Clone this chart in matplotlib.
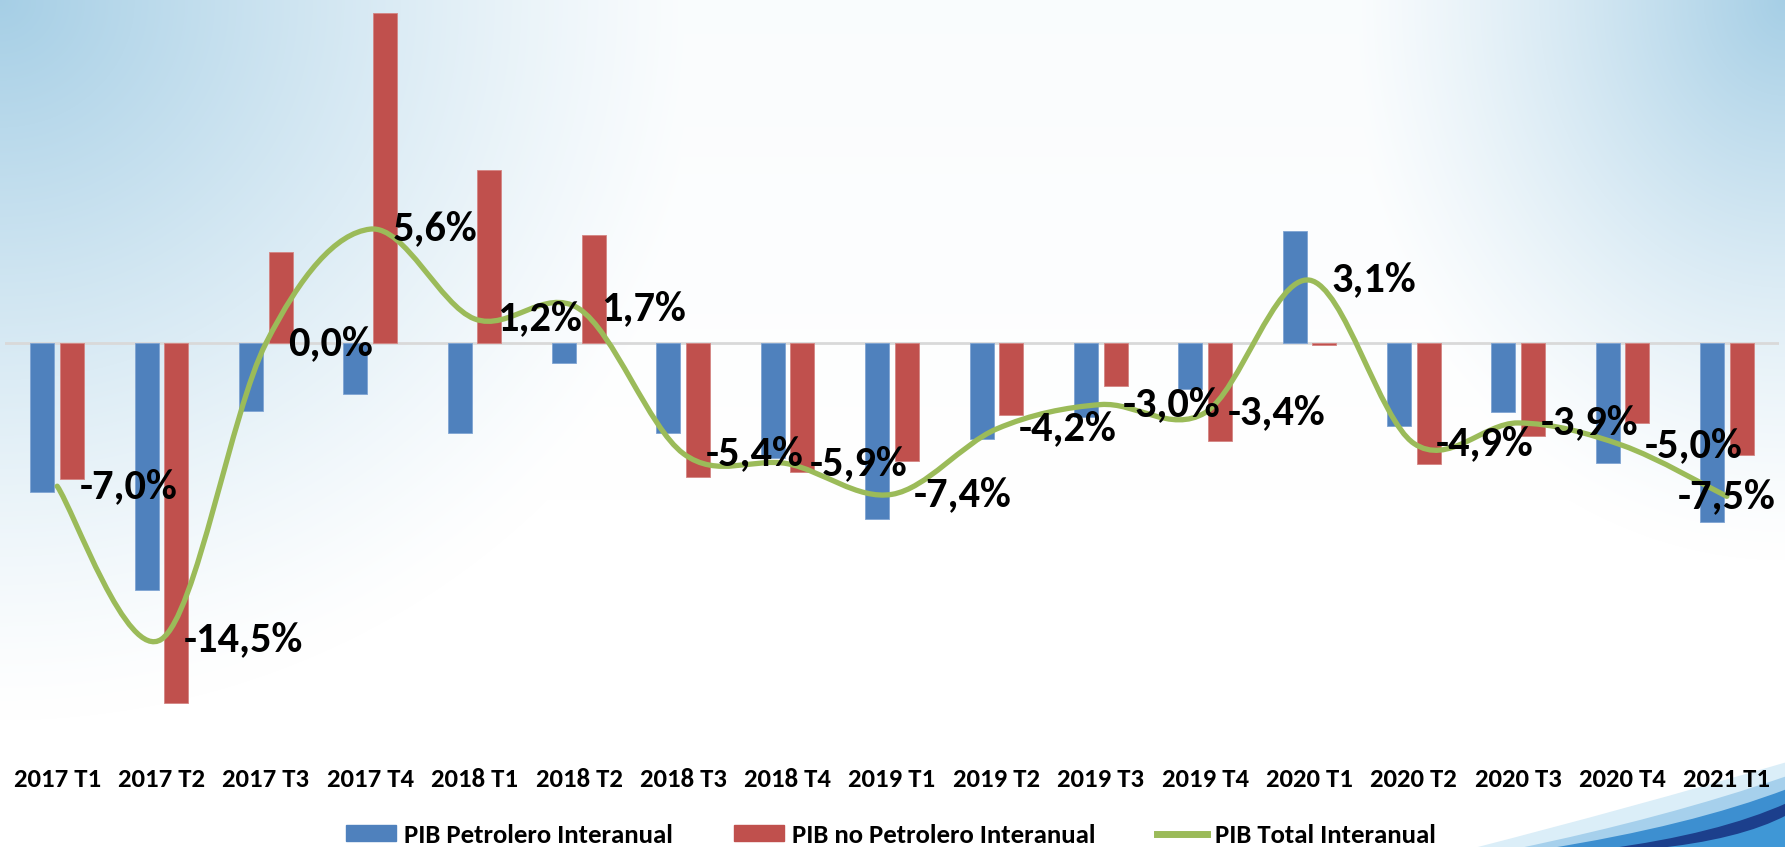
import numpy as np
import matplotlib
matplotlib.use('Agg')
import matplotlib.pyplot as plt
import matplotlib.patches as mpatches
from matplotlib.path import Path
from matplotlib.lines import Line2D

plt.rcParams['font.family'] = ['Carlito', 'DejaVu Sans']

#
# Data
#
quarters = ['2017 T1', '2017 T2', '2017 T3', '2017 T4', '2018 T1', '2018 T2',
            '2018 T3', '2018 T4', '2019 T1', '2019 T2', '2019 T3', '2019 T4',
            '2020 T1', '2020 T2', '2020 T3', '2020 T4', '2021 T1']
petrolero = [-7.3, -12.1, -3.3, -2.5, -4.4, -0.95, -4.4, -5.6, -8.6, -4.7,
             -3.6, -2.25, 5.5, -4.05, -3.35, -5.85, -8.75]
no_petrolero = [-6.65, -17.65, 4.5, 16.2, 8.5, 5.3, -6.55, -6.3, -5.75, -3.5,
                -2.1, -4.8, -0.1, -5.9, -4.55, -3.9, -5.45]
total = [-7.0, -14.5, 0.0, 5.6, 1.2, 1.7, -5.4, -5.9, -7.4, -4.2,
         -3.0, -3.4, 3.1, -4.9, -3.9, -5.0, -7.5]
total_labels = ['-7,0%', '-14,5%', '0,0%', '5,6%', '1,2%', '1,7%', '-5,4%',
                '-5,9%', '-7,4%', '-4,2%', '-3,0%', '-3,4%', '3,1%', '-4,9%',
                '-3,9%', '-5,0%', '-7,5%']

BLUE = '#4f81bd'
RED = '#c0504d'
GREEN = '#9bbb59'

W, H = 1785, 847
fig = plt.figure(figsize=(W / 100, H / 100), dpi=100)

#
# Background: soft blue corners fading to white
#
yy, xx = np.mgrid[0:H, 0:W].astype(float)
d_tl = np.sqrt((xx / 760) ** 2 + (yy / 720) ** 2)
d_tr = np.sqrt(((W - xx) / 480) ** 2 + (yy / 560) ** 2)
w = np.maximum(np.clip(1 - d_tl, 0, 1) ** 1.25, np.clip(1 - d_tr, 0, 1) ** 1.3)
w = np.maximum(w, 0.06 * np.clip(1 - yy / 500, 0, 1))
blue_bg = np.array([0.65, 0.81, 0.90])
img = (1 - w[..., None]) * np.ones(3) + w[..., None] * blue_bg
bg = fig.add_axes([0, 0, 1, 1], zorder=-10)
bg.imshow(img, aspect='auto', extent=[0, W, H, 0])
bg.set_xlim(0, W)
bg.set_ylim(H, 0)
bg.axis('off')

# swoosh in the bottom right corner (pixel coords, y down)
def swoosh(x0, y1, ctrl, color, alpha=1.0):
  verts = [(x0, H + 2), ctrl, (W + 2, y1), (W + 2, H + 2), (x0, H + 2)]
  codes = [Path.MOVETO, Path.CURVE3, Path.CURVE3, Path.LINETO, Path.CLOSEPOLY]
  bg.add_patch(mpatches.PathPatch(Path(verts, codes), facecolor=color,
                                  edgecolor='none', alpha=alpha))

swoosh(1470, 762, (1630, 808), '#dbeef8')
swoosh(1515, 776, (1665, 818), '#a6d0ec')
swoosh(1545, 789, (1690, 826), '#3d8fd0')
swoosh(1605, 803, (1718, 834), '#1c3f8c')
swoosh(1650, 815, (1740, 840), '#3f97d6')

#
# Chart
#
ax = fig.add_axes([5 / W, 0.149, 1774 / W, 0.851])
ax.patch.set_alpha(0)
x = np.arange(len(quarters))
bw = 0.23
ax.bar(x - 0.142, petrolero, bw, color=BLUE, edgecolor='#7fa4d3', linewidth=0.6, zorder=2)
ax.bar(x + 0.142, no_petrolero, bw, color=RED, edgecolor='#d48583', linewidth=0.6, zorder=2)
ax.axhline(0, color='#d9d9d9', linewidth=2, zorder=1)

# smoothed line (Catmull-Rom as cubic Bezier, like the spreadsheet "smooth line")
pts = np.column_stack([x, total]).astype(float)
verts = [tuple(pts[0])]
codes = [Path.MOVETO]
n = len(pts)
for i in range(n - 1):
  p0 = pts[max(i - 1, 0)]
  p1 = pts[i]
  p2 = pts[i + 1]
  p3 = pts[min(i + 2, n - 1)]
  c1 = p1 + (p2 - p0) / 6
  c2 = p2 - (p3 - p1) / 6
  verts += [tuple(c1), tuple(c2), tuple(p2)]
  codes += [Path.CURVE4] * 3
ax.add_patch(mpatches.PathPatch(Path(verts, codes), facecolor='none',
                                edgecolor=GREEN, linewidth=3.8, zorder=3,
                                capstyle='round'))

for i, lab in enumerate(total_labels):
  last = i == n - 1
  ax.annotate(lab, xy=(x[i], total[i]), xytext=((0 if last else 16), 0),
              textcoords='offset points', ha=('center' if last else 'left'),
              va='center', fontsize=30.5, fontweight='bold', color='black', zorder=4)

ax.set_xlim(-0.5, len(quarters) - 0.5)
ax.set_ylim(-18.5, 16.83)
ax.set_xticks(x)
ax.set_xticklabels(quarters, fontsize=19.3, fontweight='bold')
ax.tick_params(axis='x', length=0, pad=34)
ax.set_yticks([])
for s in ax.spines.values():
  s.set_visible(False)

handles = [mpatches.Patch(color=BLUE), mpatches.Patch(color=RED),
           Line2D([], [], color=GREEN, linewidth=5)]
names = ['PIB Petrolero Interanual', 'PIB no Petrolero Interanual', 'PIB Total Interanual']
fig.legend(handles, names, loc='center', bbox_to_anchor=(0.499, 0.014), ncol=3,
           frameon=False, prop=dict(size=19.3, weight='bold'),
           handlelength=1.85, handleheight=0.5, handletextpad=0.3, columnspacing=2.3)

fig.savefig('out.png', dpi=100)
